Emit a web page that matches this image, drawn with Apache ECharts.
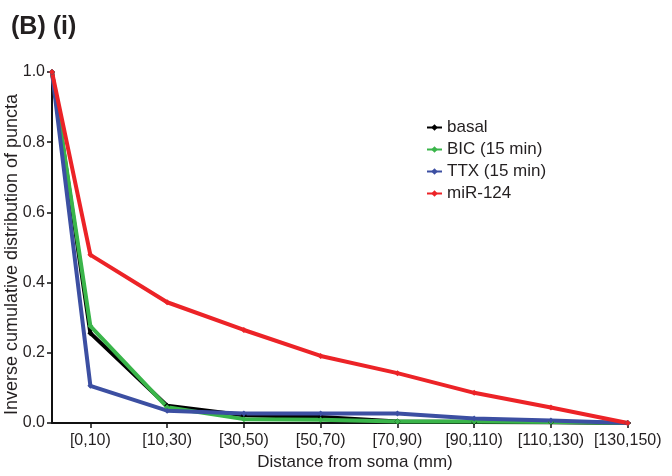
<!DOCTYPE html>
<html>
<head>
<meta charset="utf-8">
<script src="https://cdn.jsdelivr.net/npm/echarts@6/dist/echarts.min.js"></script>
<style>html,body{margin:0;padding:0;background:#fff}#c{width:672px;height:476px}</style>
</head>
<body>
<div id="c"></div>
<script>
// Distance bins (category labels on the x axis)
var categories = ['[0,10)', '[10,30)', '[30,50)', '[50,70)', '[70,90)', '[90,110)', '[110,130)', '[130,150)'];
// Value at the soma (start point, left of first bin)
var startValue = 1.0;
var basal = [0.256, 0.049, 0.022, 0.017, 0.004, 0.003, 0.002, 0.0];
var bic   = [0.276, 0.045, 0.011, 0.009, 0.004, 0.004, 0.003, 0.0];
var ttx   = [0.106, 0.035, 0.027, 0.027, 0.027, 0.013, 0.007, 0.0];
var mir124 = [0.479, 0.344, 0.265, 0.191, 0.142, 0.086, 0.044, 0.0];
var yTicks = [0, 0.2, 0.4, 0.6, 0.8, 1.0];

function toPoints(arr) {
  var pts = [[-0.5, startValue]];
  arr.forEach(function (v, i) { pts.push([i, v]); });
  return pts;
}
var idx = categories.map(function (c, i) { return i; });
var font = 'Liberation Sans, Arial, Helvetica, sans-serif';
var txt = '#231f20';

function mk(name, data, color, w) {
  return {
    name: name, type: 'line', data: toPoints(data),
    symbol: 'diamond', symbolSize: 6, showSymbol: true,
    lineStyle: { color: color, width: w },
    itemStyle: { color: color },
    emphasis: { disabled: true }
  };
}

var chart = echarts.init(document.getElementById('c'), null, { renderer: 'canvas' });
chart.setOption({
  animation: false,
  backgroundColor: '#fff',
  title: {
    text: '(B) (i)', left: 6, top: 10,
    textStyle: { fontFamily: font, fontSize: 25, fontWeight: 'bold', color: txt }
  },
  legend: {
    orient: 'vertical', left: 426, top: 119, padding: 0,
    itemWidth: 15, itemHeight: 8, itemGap: 5,
    textStyle: { fontFamily: font, fontSize: 17, color: txt },
    data: ['basal', 'BIC (15 min)', 'TTX (15 min)', 'miR-124']
  },
  grid: { left: 52, top: 72, width: 578, bottom: 53, containLabel: false, outerBoundsMode: 'none' },
  xAxis: {
    type: 'value', min: -0.5, max: 7.03,
    name: 'Distance from soma (mm)', nameLocation: 'middle', nameGap: 31,
    nameMoveOverlap: false,
    nameTextStyle: { fontFamily: font, fontSize: 17, color: txt, padding: [0, 0, 0, 28] },
    splitLine: { show: false },
    axisLine: { show: true, onZero: false, lineStyle: { color: '#111', width: 2 } },
    axisTick: { show: true, customValues: idx, length: 5, lineStyle: { color: '#111', width: 1.5 } },
    axisLabel: {
      customValues: idx, margin: 10,
      formatter: function (v) { return categories[Math.round(v)]; },
      fontFamily: font, fontSize: 16, color: txt
    }
  },
  yAxis: {
    type: 'value', min: 0, max: 1, interval: 0.2,
    name: 'Inverse cumulative distribution of puncta', nameLocation: 'middle', nameGap: 31,
    nameMoveOverlap: false,
    nameTextStyle: { fontFamily: font, fontSize: 18, color: txt, padding: [0, 14, 0, 0] },
    splitLine: { show: false },
    axisLine: { show: true, onZero: false, lineStyle: { color: '#111', width: 2 } },
    axisTick: { show: true, length: 5, lineStyle: { color: '#111', width: 1.5 } },
    axisLabel: {
      customValues: yTicks, margin: 7,
      formatter: function (v) { return v.toFixed(1); },
      fontFamily: font, fontSize: 16, color: txt
    }
  },
  series: [
    mk('basal', basal, '#000000', 4),
    mk('BIC (15 min)', bic, '#3ab54a', 4),
    mk('TTX (15 min)', ttx, '#3c4fa2', 4),
    mk('miR-124', mir124, '#ec2327', 4)
  ]
});
</script>
</body>
</html>
